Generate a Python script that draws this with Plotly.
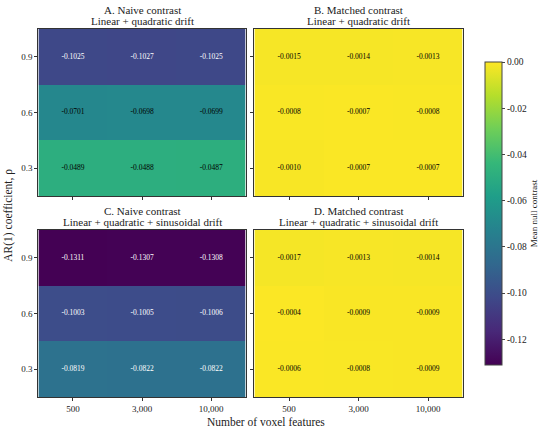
import plotly.graph_objects as go
from plotly.subplots import make_subplots

features = ["500", "3,000", "10,000"]
rho = ["0.3", "0.6", "0.9"]

# rows are rho = 0.3, 0.6, 0.9
naive_lq = [[-0.0489, -0.0488, -0.0487],
            [-0.0701, -0.0698, -0.0699],
            [-0.1025, -0.1027, -0.1025]]
matched_lq = [[-0.0010, -0.0007, -0.0007],
              [-0.0008, -0.0007, -0.0008],
              [-0.0015, -0.0014, -0.0013]]
naive_lqs = [[-0.0819, -0.0822, -0.0822],
             [-0.1003, -0.1005, -0.1006],
             [-0.1311, -0.1307, -0.1308]]
matched_lqs = [[-0.0006, -0.0008, -0.0009],
               [-0.0004, -0.0009, -0.0009],
               [-0.0017, -0.0013, -0.0014]]

titles = [("A. Naive contrast", "Linear + quadratic drift"),
          ("B. Matched contrast", "Linear + quadratic drift"),
          ("C. Naive contrast", "Linear + quadratic + sinusoidal drift"),
          ("D. Matched contrast", "Linear + quadratic + sinusoidal drift")]
panels = [naive_lq, matched_lq, naive_lqs, matched_lqs]

allv = [v for p in panels for r in p for v in r]
zmin, zmax = min(allv), 0.0

FONT = "Liberation Serif"
W, H = 550, 431

fig = make_subplots(rows=2, cols=2)

# panel boxes in pixels (left, right, top, bottom)
boxes = [(40, 256, 29, 196), (265, 482, 29, 196),
         (40, 256, 230, 397), (265, 482, 230, 397)]

for i, (z, box) in enumerate(zip(panels, boxes)):
    r, c = i // 2 + 1, i % 2 + 1
    fig.add_trace(go.Heatmap(
        x=features, y=rho, z=z, colorscale="Viridis", zmin=zmin, zmax=zmax,
        showscale=(i == 0),
        colorbar=dict(
            x=495 / W, xanchor="left", thickness=17, len=323 / H,
            y=1 - 213.5 / H, yanchor="middle", outlinewidth=1, outlinecolor="#444",
            tickvals=[0, -0.02, -0.04, -0.06, -0.08, -0.10, -0.12],
            ticktext=["0.00", "-0.02", "-0.04", "-0.06", "-0.08", "-0.10", "-0.12"],
            ticks="outside", ticklen=3, tickfont=dict(size=9.5, family=FONT, color="#222"),
            title=dict(text="Mean null contrast", side="right",
                       font=dict(size=9, family=FONT, color="#222")),
        ),
        hoverinfo="skip",
    ), row=r, col=c)
    xs, ys, txt, cols = [], [], [], []
    for yi, row in enumerate(z):
        for xi, v in enumerate(row):
            xs.append(features[xi])
            ys.append(rho[yi])
            txt.append(f"{v:.4f}")
            cols.append("white" if v < -0.075 else "black")
    fig.add_trace(go.Scatter(x=xs, y=ys, mode="text", text=txt,
                             textfont=dict(size=7.5, family=FONT, color=cols),
                             showlegend=False, hoverinfo="skip"), row=r, col=c)
    l, rr, t, b = box
    xa = "xaxis" if i == 0 else f"xaxis{i + 1}"
    ya = "yaxis" if i == 0 else f"yaxis{i + 1}"
    fig.layout[xa].update(domain=[l / W, rr / W], showline=True, mirror=True,
                          linecolor="#333", linewidth=1, ticks="outside", ticklen=3,
                          tickcolor="#333", showticklabels=(r == 2), showgrid=False,
                          zeroline=False, tickfont=dict(size=9, family=FONT, color="#222"))
    fig.layout[ya].update(domain=[1 - b / H, 1 - t / H], showline=True, mirror=True,
                          linecolor="#333", linewidth=1, ticks="outside", ticklen=3,
                          tickcolor="#333", showticklabels=(c == 1), showgrid=False,
                          zeroline=False, tickfont=dict(size=9, family=FONT, color="#222"))
    # two title lines, set closer together than plotly's <br> spacing
    for k, line in enumerate(titles[i]):
        fig.add_annotation(text=line, x=(l + rr) / 2 / W, y=1 - (t - 19 + 11 * k) / H,
                           xref="paper", yref="paper", xanchor="center", yanchor="middle",
                           showarrow=False, font=dict(size=11, family=FONT, color="#222"))

fig.add_annotation(text="Number of voxel features", x=277 / W, y=1 - 422 / H,
                   xref="paper", yref="paper", xanchor="center", yanchor="middle",
                   showarrow=False, font=dict(size=11.5, family=FONT, color="#222"))
fig.add_annotation(text="AR(1) coefficient, ρ", x=8 / W, y=1 - 215 / H, textangle=-90,
                   xref="paper", yref="paper", xanchor="center", yanchor="middle",
                   showarrow=False, font=dict(size=11.5, family=FONT, color="#222"))

fig.update_layout(width=W, height=H, margin=dict(l=0, r=0, t=0, b=0),
                  plot_bgcolor="white", paper_bgcolor="white", showlegend=False)

fig.write_html("out.html", config={"displayModeBar": False},
               post_script="document.body.style.margin='0';")
